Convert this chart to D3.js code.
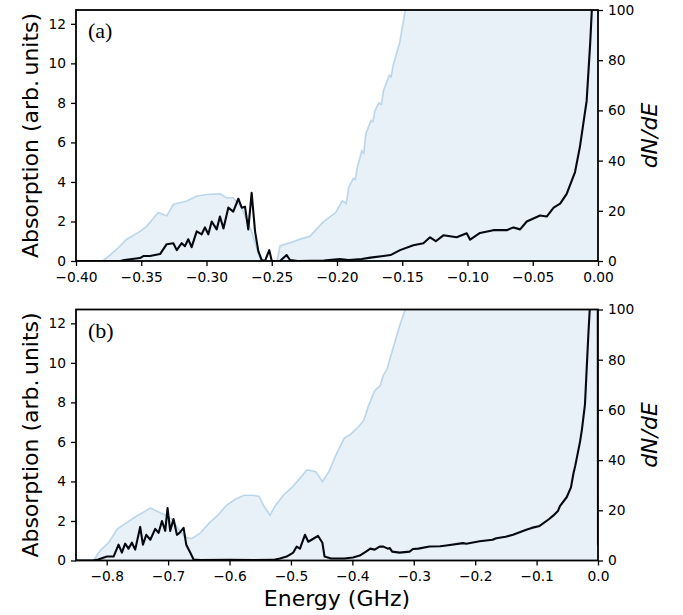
<!DOCTYPE html>
<html><head><meta charset="utf-8">
<script src="https://cdn.jsdelivr.net/npm/d3@7"></script>
<style>body{margin:0;background:#fff}svg{display:block}</style>
</head><body>
<script>
// ---- data ----
const dosEnergyA = [-0.400,-0.380,-0.3765,-0.3675,-0.3612,-0.351,-0.3458,-0.337,-0.3305,-0.3254,-0.3152,-0.3075,-0.2999,-0.2897,-0.2846,-0.2795,-0.273,-0.269,-0.2654,-0.2616,-0.259,-0.2565,-0.246,-0.2437,-0.236,-0.2284,-0.2207,-0.211,-0.201,-0.196,-0.193,-0.191,-0.1875,-0.186,-0.1845,-0.181,-0.1795,-0.178,-0.174,-0.1725,-0.171,-0.168,-0.166,-0.1644,-0.160,-0.1585,-0.157,-0.152,-0.1477,-0.14,-0.12,-0.08,-0.04,0];
const dosA = [0,0,1.3,5.3,8.7,11.8,13.9,19.3,18.0,22.6,23.9,25.9,26.5,26.8,25.2,25.2,21.3,15.9,11.8,5.3,1.3,0,0,6.0,7.3,8.7,9.9,15.4,19.4,24,23,29.4,33,32.5,37.3,44,43,50.6,56,55.5,59.8,63,62.5,67.9,74,73.5,78,87,100,115,160,260,400,600];
const absEnergyA = [-0.4,-0.366,-0.363,-0.357,-0.351,-0.3484,-0.3433,-0.3356,-0.3305,-0.3254,-0.3228,-0.319,-0.3165,-0.314,-0.3114,-0.3075,-0.3037,-0.3012,-0.2986,-0.296,-0.2922,-0.2897,-0.287,-0.2833,-0.2795,-0.2756,-0.273,-0.2705,-0.268,-0.2654,-0.2628,-0.2603,-0.2577,-0.2552,-0.2519,-0.25,-0.2437,-0.2386,-0.236,-0.23,-0.21,-0.198,-0.191,-0.181,-0.1744,-0.1644,-0.159,-0.1517,-0.1415,-0.1338,-0.1287,-0.1243,-0.1185,-0.1083,-0.1006,-0.098,-0.0904,-0.0802,-0.07,-0.0648,-0.0597,-0.0546,-0.0444,-0.0393,-0.034,-0.029,-0.024,-0.0176,-0.0138,-0.0087,-0.006,-0.003,0];
const absorptionA = [0,0,0.05,0.1,0.15,0.25,0.25,0.35,0.85,0.9,0.55,0.9,0.75,1.1,0.7,1.5,1.35,1.7,1.35,2.0,1.6,2.25,1.65,2.7,2.5,3.15,2.7,2.75,1.6,3.45,1.5,0.5,0.05,0,0.55,0,0,0.3,0.05,0,0.02,0.1,0.05,0.1,0.17,0.25,0.3,0.55,0.8,0.9,1.2,1.0,1.3,1.2,1.4,1.08,1.42,1.56,1.56,1.7,1.6,2.0,2.3,2.25,2.7,2.9,3.4,4.5,5.8,8.1,11,15,20];

const dosEnergyB = [-0.85,-0.8216,-0.811,-0.797,-0.7826,-0.768,-0.754,-0.74,-0.729,-0.7187,-0.7045,-0.694,-0.683,-0.6725,-0.662,-0.6476,-0.633,-0.619,-0.605,-0.591,-0.5766,-0.5624,-0.5518,-0.5447,-0.534,-0.527,-0.5127,-0.4985,-0.4843,-0.4737,-0.4594,-0.4488,-0.4382,-0.4275,-0.4133,-0.4026,-0.392,-0.3813,-0.3742,-0.3636,-0.355,-0.3494,-0.344,-0.3352,-0.323,-0.314,-0.30,-0.25,-0.15,-0.05,0];
const dosB = [0,0,3.9,7.1,12.6,15.0,17.3,19.3,20.9,19.7,18.1,16.5,12.6,9.4,8.7,11.0,15.0,18.1,22.0,24.4,26.0,26.0,25.6,22.0,18.1,21.3,26.0,29.1,33.1,36.2,35.4,31.5,35.4,41.7,48.8,50.4,52.8,55.9,61.4,67.7,69.6,74,76,83.5,93.6,100,115,170,300,450,600];
const absEnergyB = [-0.85,-0.822,-0.8137,-0.7997,-0.7888,-0.7807,-0.7753,-0.77,-0.7645,-0.759,-0.7536,-0.7455,-0.741,-0.7356,-0.729,-0.721,-0.7155,-0.71,-0.7047,-0.7009,-0.6966,-0.6912,-0.6857,-0.6814,-0.6748,-0.6705,-0.664,-0.6585,-0.6477,-0.60,-0.56,-0.529,-0.5179,-0.507,-0.4962,-0.4908,-0.4853,-0.4772,-0.4718,-0.4636,-0.456,-0.4488,-0.4453,-0.4346,-0.413,-0.399,-0.388,-0.3778,-0.3707,-0.3636,-0.355,-0.3494,-0.3423,-0.339,-0.3352,-0.323,-0.3068,-0.3013,-0.2926,-0.2742,-0.257,-0.247,-0.2199,-0.2145,-0.1927,-0.1718,-0.1656,-0.1505,-0.1384,-0.1167,-0.1079,-0.095,-0.0795,-0.073,-0.0653,-0.062,-0.051,-0.044,-0.04,-0.037,-0.0293,-0.0263,-0.0212,-0.0192,-0.0156,-0.012,-0.004,-0.0008,0];
const absorptionB = [0,0,0.05,0.2,0.2,0.8,0.4,0.85,0.6,0.9,0.55,1.7,0.8,1.3,1.05,1.6,1.4,2.0,1.5,2.65,1.5,2.1,1.3,1.4,1.65,0.8,0.4,0.05,0.02,0.03,0.02,0.03,0.1,0.2,0.4,0.7,0.6,1.3,0.95,1.1,1.25,0.9,0.2,0.1,0.1,0.15,0.25,0.45,0.6,0.55,0.71,0.7,0.6,0.63,0.45,0.4,0.45,0.58,0.6,0.71,0.72,0.76,0.88,0.85,0.97,1.05,1.13,1.2,1.3,1.56,1.65,1.75,2.1,2.27,2.5,2.75,3.2,3.7,4.4,4.8,6.0,6.6,7.9,9.2,11.5,13.5,30,30,0.8];

const xTicksA = [-0.40,-0.35,-0.30,-0.25,-0.20,-0.15,-0.10,-0.05,0.00];
const xTicksB = [-0.8,-0.7,-0.6,-0.5,-0.4,-0.3,-0.2,-0.1,0.0];
const leftTicks = [0,2,4,6,8,10,12];
const rightTicks = [0,20,40,60,80,100];
const panelLabels = ["(a)","(b)"];

// ---- drawing ----
const W = 683, H = 615;
const svg = d3.select("body").append("svg").attr("width",W).attr("height",H)
  .style("font-family","'DejaVu Sans', sans-serif");
const fmtMinus = s => s.replace("-","\u2212");

const panels = [
  {top:10, bottom:261, xdom:[-0.40,0], xt:xTicksA, dec:2, de:dosEnergyA, dv:dosA, ae:absEnergyA, av:absorptionA, label:panelLabels[0], xlabel:false},
  {top:309.5, bottom:560.5, xdom:[-0.85,0], xt:xTicksB, dec:1, de:dosEnergyB, dv:dosB, ae:absEnergyB, av:absorptionB, label:panelLabels[1], xlabel:true}
];
const L = 76, R = 598;

panels.forEach((p,i) => {
  const x = d3.scaleLinear().domain(p.xdom).range([L,R]);
  const yL = d3.scaleLinear().domain([0,12.7]).range([p.bottom,p.top]);
  const yR = d3.scaleLinear().domain([0,100]).range([p.bottom,p.top]);
  const clipId = "clip"+i;
  svg.append("clipPath").attr("id",clipId).append("rect")
    .attr("x",L).attr("y",p.top).attr("width",R-L).attr("height",p.bottom-p.top);
  const g = svg.append("g").attr("clip-path",`url(#${clipId})`);
  const dos = p.de.map((e,k)=>[e,p.dv[k]]);
  g.append("path").datum(dos)
    .attr("d", d3.area().x(d=>x(d[0])).y0(yR(0)).y1(d=>yR(d[1])))
    .attr("fill","#1f77b4").attr("fill-opacity",0.1);
  g.append("path").datum(dos)
    .attr("d", d3.line().x(d=>x(d[0])).y(d=>yR(d[1])))
    .attr("fill","none").attr("stroke","#1f77b4").attr("stroke-opacity",0.25).attr("stroke-width",1.7);
  const ab = p.ae.map((e,k)=>[e,p.av[k]]);
  g.append("path").datum(ab)
    .attr("d", d3.line().x(d=>x(d[0])).y(d=>yL(d[1])))
    .attr("fill","none").attr("stroke","#06090f").attr("stroke-width",2.1).attr("stroke-linejoin","round");

  // frame
  svg.append("rect").attr("x",L).attr("y",p.top).attr("width",R-L).attr("height",p.bottom-p.top)
    .attr("fill","none").attr("stroke","#000").attr("stroke-width",1.8);

  const styleAxis = sel => {
    sel.select(".domain").remove();
    sel.selectAll(".tick line").attr("stroke","#000").attr("stroke-width",1.3);
    sel.selectAll(".tick text").attr("fill","#000").style("font-size","13.8px").style("font-family","'DejaVu Sans', sans-serif");
  };
  svg.append("g").attr("transform",`translate(0,${p.bottom})`)
    .call(d3.axisBottom(x).tickValues(p.xt).tickSize(5).tickPadding(6).tickFormat(d=>fmtMinus(d.toFixed(p.dec))))
    .call(styleAxis);
  svg.append("g").attr("transform",`translate(${L},0)`)
    .call(d3.axisLeft(yL).tickValues(leftTicks).tickSize(5).tickPadding(5).tickFormat(d3.format("d")))
    .call(styleAxis);
  svg.append("g").attr("transform",`translate(${R},0)`)
    .call(d3.axisRight(yR).tickValues(rightTicks).tickSize(5).tickPadding(5).tickFormat(d3.format("d")))
    .call(styleAxis);

  const cy = (p.top+p.bottom)/2;
  svg.append("text").attr("transform",`translate(38,${cy}) rotate(-90)`)
    .attr("text-anchor","middle").style("font-size","22px").text("Absorption (arb.\u2009units)");
  svg.append("text").attr("transform",`translate(657,${cy}) rotate(-90)`)
    .attr("text-anchor","middle").style("font-size","22px").style("font-style","italic").text("dN/dE");
  svg.append("text").attr("x",88).attr("y",p.top+28)
    .style("font-family","'Liberation Serif','Times New Roman',serif").style("font-size","22px").text(p.label);
  if (p.xlabel) {
    svg.append("text").attr("x",(L+R)/2).attr("y",606).attr("text-anchor","middle")
      .style("font-size","22px").text("Energy (GHz)");
  }
});
</script>
</body></html>
